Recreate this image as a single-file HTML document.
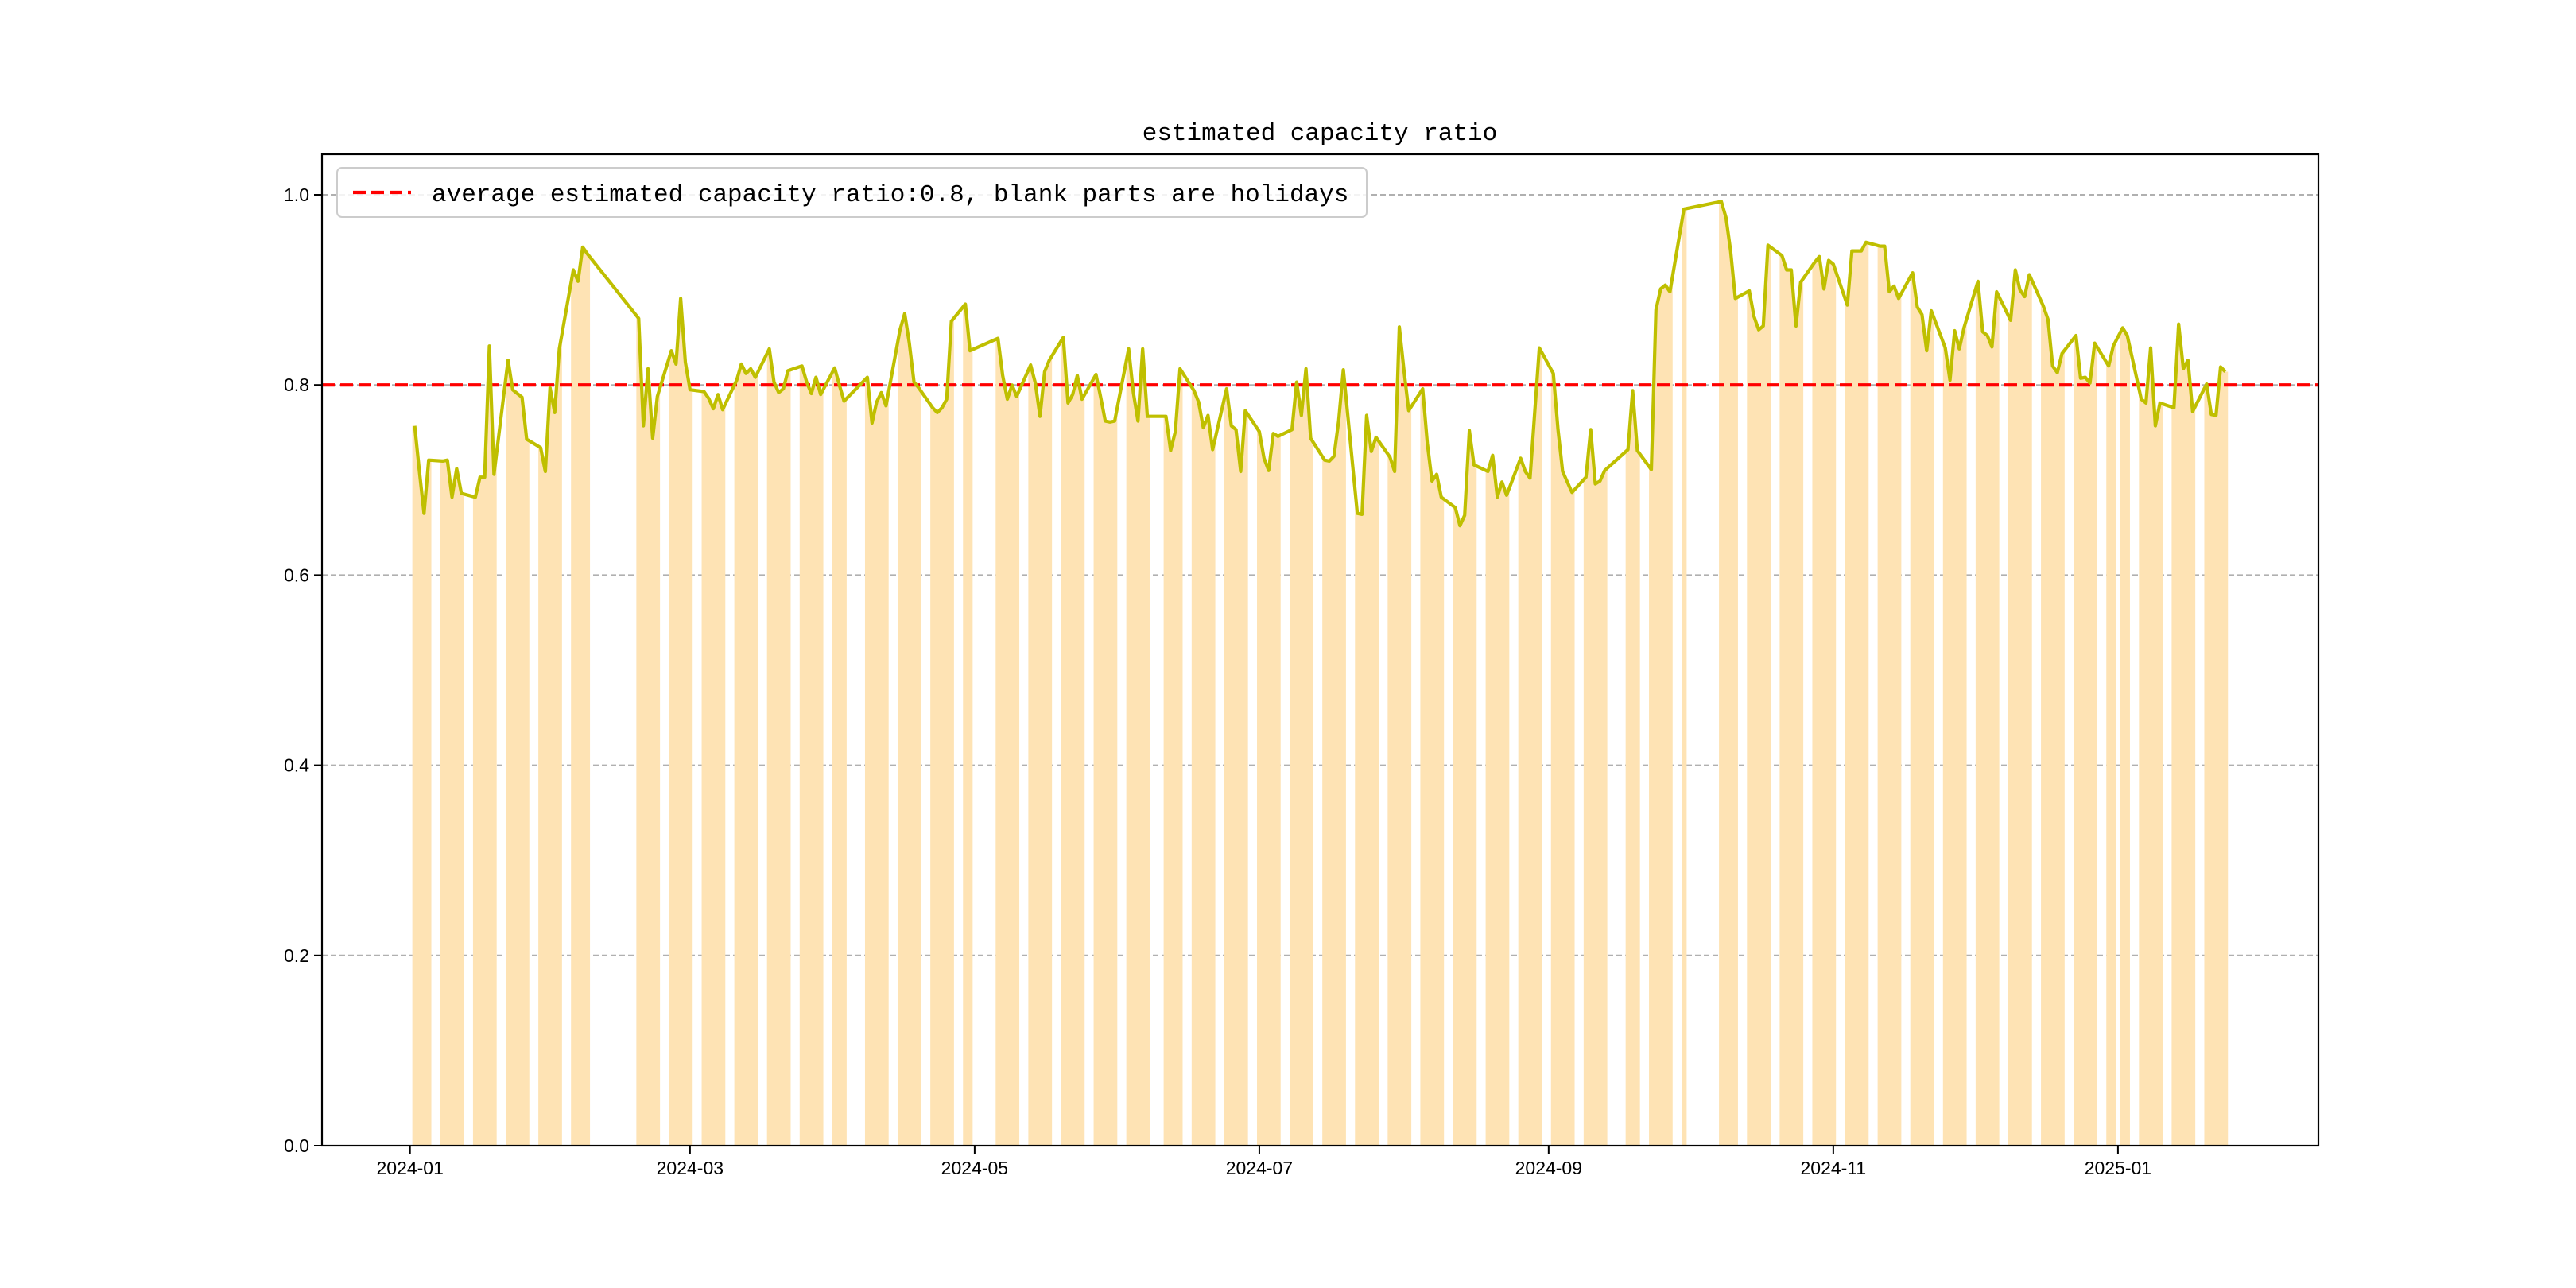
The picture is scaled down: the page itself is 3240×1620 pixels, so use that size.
<!DOCTYPE html>
<html>
<head>
<meta charset="utf-8">
<style>
html,body{margin:0;padding:0;background:#fff;}
svg{display:block;}
text{font-family:"Liberation Sans","DejaVu Sans",sans-serif;fill:#000;}
.mono{font-family:"Liberation Mono","DejaVu Sans Mono",monospace;}
</style>
</head>
<body>
<svg id="chart" width="3240" height="1620" viewBox="0 0 3240 1620" xmlns="http://www.w3.org/2000/svg">
  <defs><clipPath id="barClip"></clipPath></defs>
  <rect x="0" y="0" width="3240" height="1620" fill="#ffffff"/>
  <g id="grid"></g>
  <g id="fill"></g>
  <g id="series"></g>
  <g id="axes"></g>
  <text x="1660" y="176" text-anchor="middle" font-size="31" class="mono">estimated capacity ratio</text>
  <g>
    <rect x="424" y="211" width="1295" height="62" rx="6" fill="#ffffff" fill-opacity="0.85" stroke="#cccccc" stroke-width="2"/>
    <line x1="444" y1="242" x2="517" y2="242" stroke="#ff0000" stroke-width="4.2" stroke-dasharray="16 7"/>
    <text x="543" y="253" font-size="31" class="mono">average estimated capacity ratio:0.8, blank parts are holidays</text>
  </g>
</svg>
<script>
const dates = [
"2024-01-02","2024-01-03","2024-01-04","2024-01-05","2024-01-08","2024-01-09","2024-01-10","2024-01-11","2024-01-12","2024-01-15","2024-01-16","2024-01-17","2024-01-18","2024-01-19","2024-01-22","2024-01-23","2024-01-24","2024-01-25","2024-01-26","2024-01-29","2024-01-30","2024-01-31",
"2024-02-01","2024-02-02","2024-02-05","2024-02-06","2024-02-07","2024-02-08","2024-02-19","2024-02-20","2024-02-21","2024-02-22","2024-02-23","2024-02-26","2024-02-27","2024-02-28","2024-02-29",
"2024-03-01","2024-03-04","2024-03-05","2024-03-06","2024-03-07","2024-03-08","2024-03-11","2024-03-12","2024-03-13","2024-03-14","2024-03-15","2024-03-18","2024-03-19","2024-03-20","2024-03-21","2024-03-22","2024-03-25","2024-03-26","2024-03-27","2024-03-28","2024-03-29",
"2024-04-01","2024-04-02","2024-04-03","2024-04-08","2024-04-09","2024-04-10","2024-04-11","2024-04-12","2024-04-15","2024-04-16","2024-04-17","2024-04-18","2024-04-19","2024-04-22","2024-04-23","2024-04-24","2024-04-25","2024-04-26","2024-04-29","2024-04-30",
"2024-05-06","2024-05-07","2024-05-08","2024-05-09","2024-05-10","2024-05-13","2024-05-14","2024-05-15","2024-05-16","2024-05-17","2024-05-20","2024-05-21","2024-05-22","2024-05-23","2024-05-24","2024-05-27","2024-05-28","2024-05-29","2024-05-30","2024-05-31",
"2024-06-03","2024-06-04","2024-06-05","2024-06-06","2024-06-07","2024-06-11","2024-06-12","2024-06-13","2024-06-14","2024-06-17","2024-06-18","2024-06-19","2024-06-20","2024-06-21","2024-06-24","2024-06-25","2024-06-26","2024-06-27","2024-06-28",
"2024-07-01","2024-07-02","2024-07-03","2024-07-04","2024-07-05","2024-07-08","2024-07-09","2024-07-10","2024-07-11","2024-07-12","2024-07-15","2024-07-16","2024-07-17","2024-07-18","2024-07-19","2024-07-22","2024-07-23","2024-07-24","2024-07-25","2024-07-26","2024-07-29","2024-07-30","2024-07-31",
"2024-08-01","2024-08-02","2024-08-05","2024-08-06","2024-08-07","2024-08-08","2024-08-09","2024-08-12","2024-08-13","2024-08-14","2024-08-15","2024-08-16","2024-08-19","2024-08-20","2024-08-21","2024-08-22","2024-08-23","2024-08-26","2024-08-27","2024-08-28","2024-08-29","2024-08-30",
"2024-09-02","2024-09-03","2024-09-04","2024-09-05","2024-09-06","2024-09-09","2024-09-10","2024-09-11","2024-09-12","2024-09-13","2024-09-18","2024-09-19","2024-09-20","2024-09-23","2024-09-24","2024-09-25","2024-09-26","2024-09-27","2024-09-30",
"2024-10-08","2024-10-09","2024-10-10","2024-10-11","2024-10-14","2024-10-15","2024-10-16","2024-10-17","2024-10-18","2024-10-21","2024-10-22","2024-10-23","2024-10-24","2024-10-25","2024-10-28","2024-10-29","2024-10-30","2024-10-31",
"2024-11-01","2024-11-04","2024-11-05","2024-11-06","2024-11-07","2024-11-08","2024-11-11","2024-11-12","2024-11-13","2024-11-14","2024-11-15","2024-11-18","2024-11-19","2024-11-20","2024-11-21","2024-11-22","2024-11-25","2024-11-26","2024-11-27","2024-11-28","2024-11-29",
"2024-12-02","2024-12-03","2024-12-04","2024-12-05","2024-12-06","2024-12-09","2024-12-10","2024-12-11","2024-12-12","2024-12-13","2024-12-16","2024-12-17","2024-12-18","2024-12-19","2024-12-20","2024-12-23","2024-12-24","2024-12-25","2024-12-26","2024-12-27","2024-12-30","2024-12-31",
"2025-01-02","2025-01-03","2025-01-06","2025-01-07","2025-01-08","2025-01-09","2025-01-10","2025-01-13","2025-01-14","2025-01-15","2025-01-16","2025-01-17","2025-01-20","2025-01-21","2025-01-22","2025-01-23","2025-01-24"
];
const ratios = [
.757,.71,.665,.721,.72,.721,.682,.712,.686,.682,.703,.703,.841,.706,.826,.795,.791,.787,.743,.734,.709,.797,
.771,.838,.921,.909,.945,.938,.870,.757,.817,.744,.788,.836,.822,.891,.824,
.795,.793,.786,.775,.790,.774,.805,.822,.812,.817,.808,.838,.803,.792,.796,.815,.820,.803,.791,.808,.790,
.818,.80,.783,.808,.760,.782,.792,.778,.858,.875,.844,.803,.797,.776,.771,.776,.785,.867,.885,.836,
.849,.81,.785,.800,.788,.821,.802,.767,.814,.826,.850,.781,.790,.810,.785,.811,.787,.762,.761,.762,
.838,.792,.762,.838,.767,.767,.731,.751,.817,.794,.782,.755,.768,.732,.796,.757,.753,.709,.773,
.751,.723,.710,.749,.746,.753,.803,.768,.817,.744,.721,.720,.725,.762,.816,.665,.664,.768,.730,.745,.724,.709,.861,
.815,.773,.796,.739,.699,.706,.682,.671,.652,.663,.752,.716,.709,.726,.682,.698,.684,.723,.709,.702,.770,.839,
.812,.753,.709,.698,.687,.703,.753,.696,.699,.710,.732,.794,.731,.711,.879,.901,.905,.898,.985,
.993,.976,.941,.891,.899,.872,.858,.862,.947,.936,.921,.921,.862,.908,.929,.935,.901,.931,
.927,.884,.941,.941,.941,.950,.946,.946,.898,.904,.891,.918,.882,.874,.836,.878,.839,.805,.857,.838,.86,
.909,.856,.852,.840,.898,.868,.921,.900,.893,.916,.883,.869,.820,.813,.833,.852,.807,.808,.802,.844,.820,.841,
.860,.852,.785,.781,.839,.757,.781,.776,.864,.817,.826,.772,.801,.769,.768,.819,.814
];
const averageRatio = 0.8;
const yTicks = [0, 0.2, 0.4, 0.6, 0.8, 1.0];
const yTickLabels = ["0.0","0.2","0.4","0.6","0.8","1.0"];
const xTicks = ["2024-01-01","2024-03-01","2024-05-01","2024-07-01","2024-09-01","2024-11-01","2025-01-01"];
const xTickLabels = ["2024-01","2024-03","2024-05","2024-07","2024-09","2024-11","2025-01"];

const NS = "http://www.w3.org/2000/svg";
const L = 405, R = 2916, T = 194, B = 1441;
const dayMs = 86400000;
const t0 = Date.UTC(2024,0,1), t1 = Date.UTC(2025,0,1);
const X0 = 515.7, X1 = 2663.9;
function dayOf(s){ const p = s.split("-"); return (Date.UTC(+p[0], +p[1]-1, +p[2]) - t0) / dayMs; }
const pxPerDay = (X1 - X0) / ((t1 - t0) / dayMs);
function xScale(s){ return X0 + dayOf(s) * pxPerDay; }
function yScale(v){ return B - v * 1196; }
function mk(tag, attrs, parent){ const e = document.createElementNS(NS, tag); for (const k in attrs) e.setAttribute(k, attrs[k]); parent.appendChild(e); return e; }

// grid
const grid = document.getElementById('grid');
yTicks.forEach(v => {
  if (v === 0) return;
  const g = mk('line', {x1:L, x2:R, y1:yScale(v), y2:yScale(v), stroke:'#b0b0b0', 'stroke-width':2, 'stroke-dasharray':'7 4'}, grid);
  
  
});

// filled bars: area under line clipped to trading-day rects
const clip = document.getElementById('barClip');
dates.forEach(d => {
  const cx = xScale(d);
  mk('rect', {x: cx - pxPerDay/2, y: T, width: pxPerDay + 0.4, height: B - T}, clip);
});
const fillG = document.getElementById('fill');
let area = 'M' + xScale(dates[0]) + ',' + B;
dates.forEach((d,i) => { area += ' L' + xScale(d) + ',' + yScale(ratios[i]); });
area += ' L' + xScale(dates[dates.length-1]) + ',' + B + ' Z';
// extend edges horizontally so half-day bars at ends are filled
let area2 = 'M' + (xScale(dates[0]) - pxPerDay) + ',' + B + ' L' + (xScale(dates[0]) - pxPerDay) + ',' + yScale(ratios[0]);
dates.forEach((d,i) => { area2 += ' L' + xScale(d) + ',' + yScale(ratios[i]); });
const lastI = dates.length - 1;
area2 += ' L' + (xScale(dates[lastI]) + pxPerDay) + ',' + yScale(ratios[lastI]) + ' L' + (xScale(dates[lastI]) + pxPerDay) + ',' + B + ' Z';
const fp = mk('path', {d: area2, fill:'#fee3b4', 'clip-path':'url(#barClip)'}, fillG);



// avg line
const series = document.getElementById('series');
const avg = mk('line', {x1:L, x2:R, y1:yScale(averageRatio), y2:yScale(averageRatio), stroke:'#ff0000', 'stroke-width':4.2, 'stroke-dasharray':'16 7'}, series);



// ratio line
let pts = dates.map((d,i) => xScale(d).toFixed(1) + ',' + yScale(ratios[i]).toFixed(1)).join(' ');
const pl = mk('polyline', {points: pts, fill:'none', stroke:'#bfbf00', 'stroke-width':4.2, 'stroke-linejoin':'round'}, series);



// axes
const axes = document.getElementById('axes');
const frame = mk('rect', {x:L, y:T, width:R-L, height:B-T, fill:'none', stroke:'#000', 'stroke-width':2.2}, axes);


yTicks.forEach((v,i) => {
  const y = yScale(v);
  mk('line', {x1:L-10, x2:L, y1:y, y2:y, stroke:'#000', 'stroke-width':2}, axes);
  const t = mk('text', {x:L-16, y:y+8, 'text-anchor':'end', 'font-size':23}, axes);
  t.textContent = yTickLabels[i];
  
  
});
xTicks.forEach((d,i) => {
  const x = xScale(d);
  mk('line', {x1:x, x2:x, y1:B, y2:B+10, stroke:'#000', 'stroke-width':2}, axes);
  const t = mk('text', {x:x, y:B+36, 'text-anchor':'middle', 'font-size':23}, axes);
  t.textContent = xTickLabels[i];
  
  
});
</script>
</body>
</html>
